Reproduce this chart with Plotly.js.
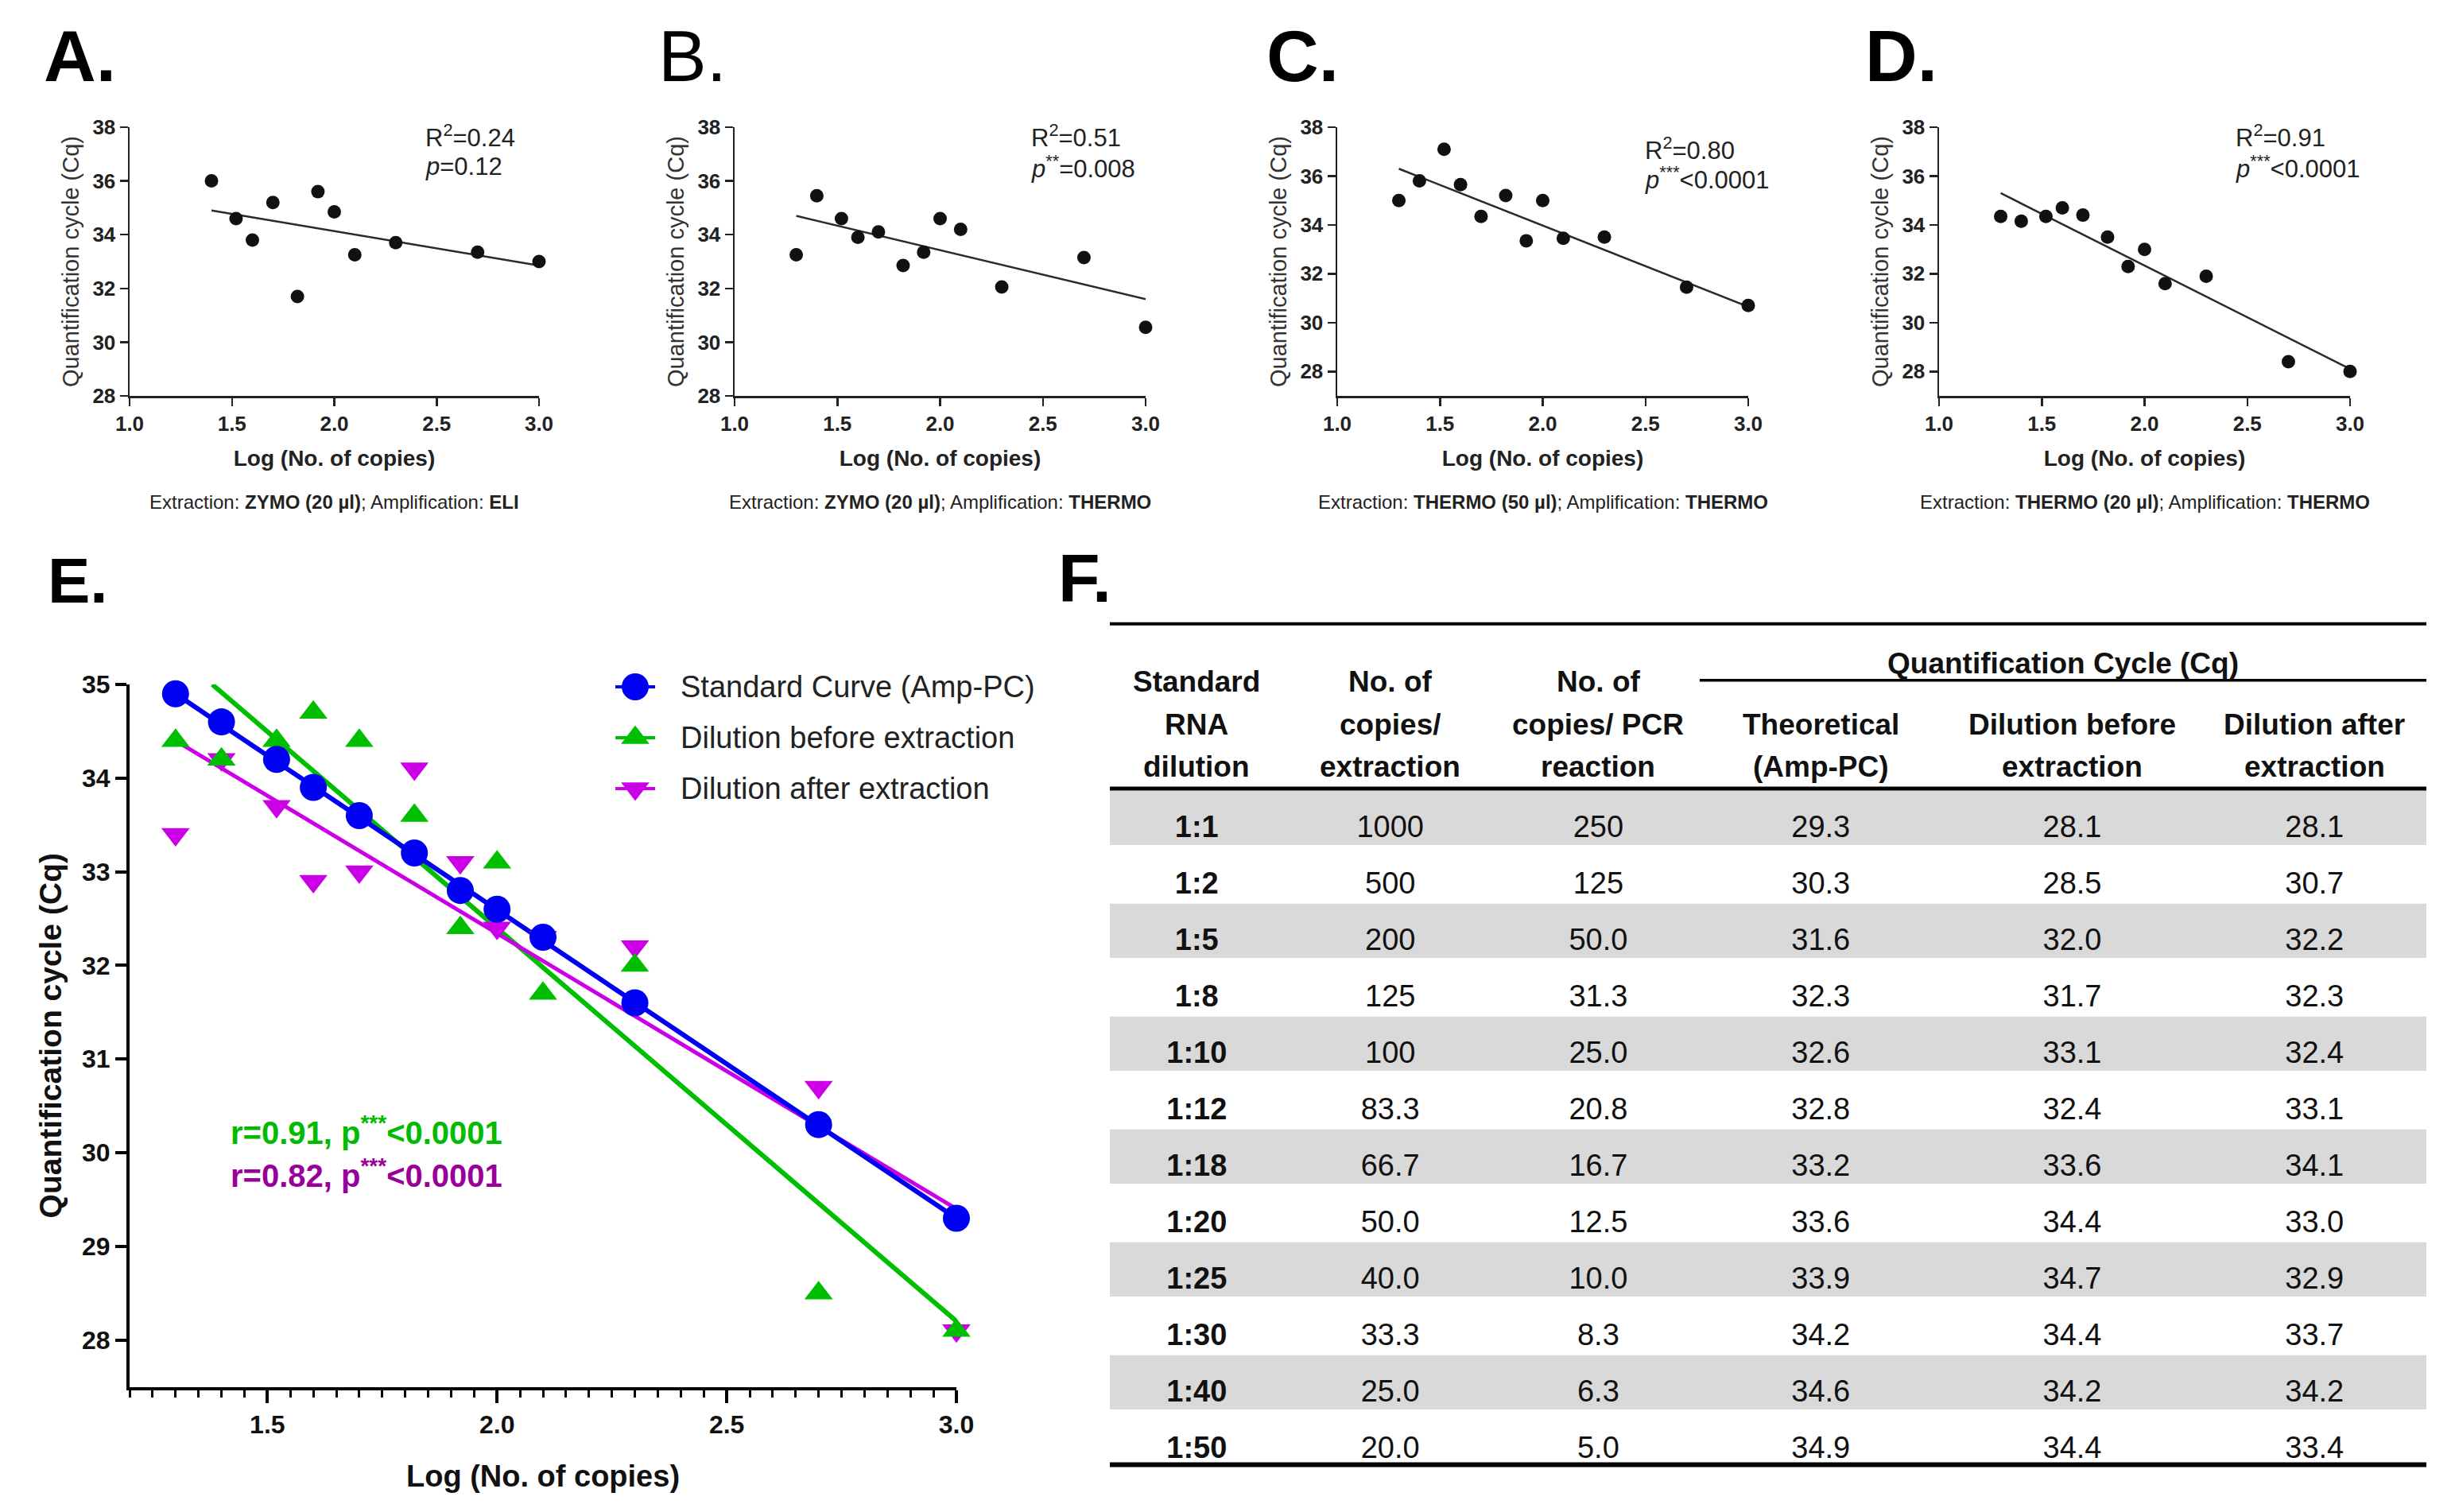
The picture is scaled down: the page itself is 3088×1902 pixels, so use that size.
<!DOCTYPE html>
<html>
<head>
<meta charset="utf-8">
<script src="https://cdn.plot.ly/plotly-3.0.1.min.js"></script>
<style>
  html, body { margin: 0; padding: 0; background: #ffffff; }
  #chart { width: 3088px; height: 1902px; }
</style>
</head>
<body>
<div id="chart"></div>
<script>
// ======================= DATA =======================
// Panels A-D : Log(No. of copies) vs Cq
const panelA_x  = [1.40, 1.52, 1.60, 1.70, 1.82, 1.92, 2.00, 2.10, 2.30, 2.70, 3.00];
const panelA_cq = [36.0, 34.6, 33.8, 35.2, 31.7, 35.6, 34.85, 33.25, 33.7, 33.35, 33.0];
const panelA_fitX  = [1.40, 3.00];
const panelA_fitCq = [34.9, 32.85];

const panelB_x  = [1.30, 1.40, 1.52, 1.60, 1.70, 1.82, 1.92, 2.00, 2.10, 2.30, 2.70, 3.00];
const panelB_cq = [33.25, 35.45, 34.6, 33.9, 34.1, 32.85, 33.35, 34.6, 34.2, 32.05, 33.15, 30.55];
const panelB_fitX  = [1.30, 3.00];
const panelB_fitCq = [34.7, 31.6];

const panelC_x  = [1.30, 1.40, 1.52, 1.60, 1.70, 1.82, 1.92, 2.00, 2.10, 2.30, 2.70, 3.00];
const panelC_cq = [35.0, 35.8, 37.1, 35.65, 34.35, 35.2, 33.35, 35.0, 33.45, 33.5, 31.45, 30.7];
const panelC_fitX  = [1.30, 3.00];
const panelC_fitCq = [36.3, 30.65];

const panelD_x  = [1.30, 1.40, 1.52, 1.60, 1.70, 1.82, 1.92, 2.00, 2.10, 2.30, 2.70, 3.00];
const panelD_cq = [34.35, 34.15, 34.35, 34.7, 34.4, 33.5, 32.3, 33.0, 31.6, 31.9, 28.4, 28.0];
const panelD_fitX  = [1.30, 3.00];
const panelD_fitCq = [35.3, 28.1];

const panelLetters = ['A.', 'B.', 'C.', 'D.', 'E.', 'F.'];
const panelR2      = ['0.24', '0.51', '0.80', '0.91'];
const panelPStars  = ['', '**', '***', '***'];
const panelPValue  = ['=0.12', '=0.008', '<0.0001', '<0.0001'];
const extractionKit    = ['ZYMO (20 µl)', 'ZYMO (20 µl)', 'THERMO (50 µl)', 'THERMO (20 µl)'];
const amplificationKit = ['ELI', 'THERMO', 'THERMO', 'THERMO'];

// Panel E / Table F
const dilutions        = ['1:1', '1:2', '1:5', '1:8', '1:10', '1:12', '1:18', '1:20', '1:25', '1:30', '1:40', '1:50'];
const copiesExtraction = ['1000', '500', '200', '125', '100', '83.3', '66.7', '50.0', '40.0', '33.3', '25.0', '20.0'];
const copiesPCR        = ['250', '125', '50.0', '31.3', '25.0', '20.8', '16.7', '12.5', '10.0', '8.3', '6.3', '5.0'];
const logCopiesE       = [3.00, 2.70, 2.30, 2.10, 2.00, 1.92, 1.82, 1.70, 1.60, 1.52, 1.40, 1.30];
const cqTheoretical    = [29.3, 30.3, 31.6, 32.3, 32.6, 32.8, 33.2, 33.6, 33.9, 34.2, 34.6, 34.9];
const cqBefore         = [28.1, 28.5, 32.0, 31.7, 33.1, 32.4, 33.6, 34.4, 34.7, 34.4, 34.2, 34.4];
const cqAfter          = [28.1, 30.7, 32.2, 32.3, 32.4, 33.1, 34.1, 33.0, 32.9, 33.7, 34.2, 33.4];

const fitTheoreticalX = [1.30, 3.00];
const fitTheoreticalY = [34.9, 29.3];
const fitBeforeX      = [1.38, 3.00];
const fitBeforeY      = [35.0, 28.2];
const fitAfterX       = [1.30, 3.00];
const fitAfterY       = [34.4, 29.4];

const seriesNames = ['Standard Curve (Amp-PC)', 'Dilution before extraction', 'Dilution after extraction'];
const corrR       = ['0.91', '0.82'];
const corrP       = ['<0.0001', '<0.0001'];

const tableHeaderLines = [
  ['Standard', 'RNA', 'dilution'],
  ['No. of', 'copies/', 'extraction'],
  ['No. of', 'copies/ PCR', 'reaction'],
  ['Theoretical', '(Amp-PC)'],
  ['Dilution before', 'extraction'],
  ['Dilution after', 'extraction']
];
const tableGroupHeader = 'Quantification Cycle (Cq)';

// ======================= STYLE / LAYOUT CONSTANTS =======================
const W = 3088, H = 1902;
const FONT = 'Liberation Sans, Arial, Helvetica, sans-serif';
const px = v => v / W;
const py = v => 1 - v / H;

const SMALL_X_PX = [[163, 678], [924, 1441], [1682, 2199], [2439, 2956]];
const SMALL_Y_PX = [160, 498];
const SMALL_Y_RANGES = [[28, 38], [28, 38], [27, 38], [27, 38]];
const STAT_X = [0.718, 0.718, 0.745, 0.718];
const STAT_Y = [[0.967, 0.853], [0.967, 0.853], [0.920, 0.811], [0.967, 0.853]];
const LETTER_POS = [[53, 71, 91, 'bold'], [826, 71, 91, 'normal'], [1591, 71, 91, 'bold'], [2344, 71, 91, 'bold'],
                    [58, 730, 80, 'bold'], [1329, 727, 86, 'bold']];

const E_X_PX = [163, 1203];
const E_Y_PX = [861, 1744.5];
const COLORS = ['#0000f2', '#00bf00', '#cc00e6'];
const TEXT_COLORS = ['#00bb00', '#990099'];
const SYMBOLS = ['circle', 'triangle-up', 'triangle-down'];
const MARKER_SIZES = [34, 31, 31];
const LINE_WIDTHS = [6, 6, 5];

const LEG_X_PX = [774, 1324];   // legend key axis domain, range [0, 11] (50 px per unit)
const LEG_Y_PX = [832, 1024];   // rows 0..2
const LEGEND_KEY = { lineX: [0, 1], markerX: 0.5, textX: 1.6 };

const TABLE_X_PX = [1396, 3052];
const TABLE_Y_PX = [770, 1860];
const TABLE_Y_RANGE = [11.586, -3.766];
const TABLE_COL_X = [0.066, 0.213, 0.371, 0.540, 0.731, 0.915];
const TABLE_TEXT_DY = 0.085;
const TABLE_SUBGROUP_X0 = 0.448;
const HEADER_LINE_Y = [-2.53, -1.78, -1.03];
const GROUP_HEADER_Y = -2.86;
const TABLE_RULES = [
  { y: -3.56, x0: 0, w: 4 },
  { y: -2.557, x0: TABLE_SUBGROUP_X0, w: 3.5 },
  { y: -0.64, x0: 0, w: 5 },
  { y: 11.34, x0: 0, w: 6 }
];
const BAND = [-0.60, 0.36];

// ======================= BUILD =======================
const traces = [];
const annotations = [];
const shapes = [];
const layout = {
  width: W, height: H,
  margin: { l: 0, r: 0, t: 0, b: 0, pad: 0 },
  paper_bgcolor: '#ffffff', plot_bgcolor: 'rgba(0,0,0,0)',
  showlegend: false,
  font: { family: FONT, color: '#222' },
  annotations: annotations,
  shapes: shapes
};

const smallPanels = [
  { x: panelA_x, cq: panelA_cq, fx: panelA_fitX, fy: panelA_fitCq },
  { x: panelB_x, cq: panelB_cq, fx: panelB_fitX, fy: panelB_fitCq },
  { x: panelC_x, cq: panelC_cq, fx: panelC_fitX, fy: panelC_fitCq },
  { x: panelD_x, cq: panelD_cq, fx: panelD_fitX, fy: panelD_fitCq }
];

smallPanels.forEach((p, i) => {
  const s = i === 0 ? '' : String(i + 1);
  traces.push({ type: 'scatter', mode: 'lines', x: p.fx, y: p.fy, xaxis: 'x' + s, yaxis: 'y' + s,
    line: { color: '#2a2a2a', width: 2.5 }, hoverinfo: 'skip', cliponaxis: false });
  traces.push({ type: 'scatter', mode: 'markers', x: p.x, y: p.cq, xaxis: 'x' + s, yaxis: 'y' + s,
    marker: { color: '#111111', size: 17 }, cliponaxis: false });

  layout['xaxis' + s] = {
    domain: [px(SMALL_X_PX[i][0]), px(SMALL_X_PX[i][1])], anchor: 'y' + s,
    range: [1, 3], tick0: 1, dtick: 0.5, tickformat: '.1f',
    ticks: 'outside', ticklen: 10, tickwidth: 2.5, tickcolor: '#222',
    showline: true, linewidth: 2.5, linecolor: '#222',
    showgrid: false, zeroline: false, fixedrange: true,
    tickfont: { family: FONT, size: 26, color: '#222', weight: 'bold' },
    title: { text: 'Log (No. of copies)', standoff: 20,
      font: { family: FONT, size: 28, color: '#222', weight: 'bold' } }
  };
  layout['yaxis' + s] = {
    domain: [py(SMALL_Y_PX[1]), py(SMALL_Y_PX[0])], anchor: 'x' + s,
    range: SMALL_Y_RANGES[i], tick0: 28, dtick: 2,
    ticks: 'outside', ticklen: 10, tickwidth: 2.5, tickcolor: '#222',
    showline: true, linewidth: 2.5, linecolor: '#222',
    showgrid: false, zeroline: false, fixedrange: true,
    tickfont: { family: FONT, size: 26, color: '#222', weight: 'bold' },
    title: { text: 'Quantification cycle (Cq)', standoff: 8,
      font: { family: FONT, size: 29, color: '#333' } }
  };

  // statistics
  annotations.push({ xref: 'x' + s + ' domain', yref: 'y' + s + ' domain', x: STAT_X[i], y: STAT_Y[i][0],
    xanchor: 'left', yanchor: 'middle', showarrow: false,
    text: 'R<sup>2</sup>=' + panelR2[i], font: { family: FONT, size: 31, color: '#222' } });
  annotations.push({ xref: 'x' + s + ' domain', yref: 'y' + s + ' domain', x: STAT_X[i], y: STAT_Y[i][1],
    xanchor: 'left', yanchor: 'middle', showarrow: false,
    text: '<i>p</i>' + (panelPStars[i] ? '<sup>' + panelPStars[i] + '</sup>' : '') + panelPValue[i].replace('<', '&lt;'),
    font: { family: FONT, size: 31, color: '#222' } });
  // subtitle
  annotations.push({ xref: 'x' + s + ' domain', yref: 'y' + s + ' domain', x: 0.5, y: 0, yshift: -134,
    xanchor: 'center', yanchor: 'middle', showarrow: false,
    text: 'Extraction: <b>' + extractionKit[i] + '</b>; Amplification: <b>' + amplificationKit[i] + '</b>',
    font: { family: FONT, size: 24, color: '#222' } });
});

// ---------- Panel E ----------
const eSeriesX = [logCopiesE, logCopiesE, logCopiesE];
const eSeriesY = [cqTheoretical, cqBefore, cqAfter];
const eFitX = [fitTheoreticalX, fitBeforeX, fitAfterX];
const eFitY = [fitTheoreticalY, fitBeforeY, fitAfterY];
const lineOrder = [1, 2, 0];
const markerOrder = [2, 1, 0];
lineOrder.forEach(k => {
  traces.push({ type: 'scatter', mode: 'lines', x: eFitX[k], y: eFitY[k], xaxis: 'x5', yaxis: 'y5',
    line: { color: COLORS[k], width: LINE_WIDTHS[k] }, hoverinfo: 'skip', cliponaxis: false });
});
markerOrder.forEach(k => {
  traces.push({ type: 'scatter', mode: 'markers', x: eSeriesX[k], y: eSeriesY[k], xaxis: 'x5', yaxis: 'y5',
    name: seriesNames[k],
    marker: { color: COLORS[k], size: MARKER_SIZES[k], symbol: SYMBOLS[k] }, cliponaxis: false });
});

layout.xaxis5 = {
  domain: [px(E_X_PX[0]), px(E_X_PX[1])], anchor: 'y5',
  range: [1.2, 3.0], dtick: 0.5, tickformat: '.1f',
  ticks: 'outside', ticklen: 16, tickwidth: 4, tickcolor: '#000',
  minor: { dtick: 0.05, ticks: 'outside', ticklen: 9, tickwidth: 3, tickcolor: '#000', showgrid: false },
  showline: true, linewidth: 4, linecolor: '#000',
  showgrid: false, zeroline: false, fixedrange: true,
  tickfont: { family: FONT, size: 32, color: '#111', weight: 'bold' },
  title: { text: 'Log (No. of copies)', standoff: 36,
    font: { family: FONT, size: 38, color: '#111', weight: 'bold' } }
};
layout.yaxis5 = {
  domain: [py(E_Y_PX[1]), py(E_Y_PX[0])], anchor: 'x5',
  range: [27.5, 35], dtick: 1,
  ticks: 'outside', ticklen: 14, tickwidth: 4, tickcolor: '#000',
  showline: true, linewidth: 4, linecolor: '#000',
  showgrid: false, zeroline: false, fixedrange: true,
  tickfont: { family: FONT, size: 32, color: '#111', weight: 'bold' },
  title: { text: 'Quantification cycle (Cq)', standoff: 14,
    font: { family: FONT, size: 39, color: '#111', weight: 'bold' } }
};

// correlation labels
corrR.forEach((r, j) => {
  annotations.push({ xref: 'x5 domain', yref: 'y5 domain', x: 0.12, y: [0.365, 0.304][j],
    xanchor: 'left', yanchor: 'middle', showarrow: false,
    text: '<b>r=' + r + ', p<sup>***</sup>' + corrP[j].replace('<', '&lt;') + '</b>',
    font: { family: FONT, size: 40, color: TEXT_COLORS[j] } });
});

// legend (drawn on its own small axis)
layout.xaxis6 = { domain: [px(LEG_X_PX[0]), px(LEG_X_PX[1])], anchor: 'y6', range: [0, 11], visible: false, fixedrange: true };
layout.yaxis6 = { domain: [py(LEG_Y_PX[1]), py(LEG_Y_PX[0])], anchor: 'x6', range: [2.5, -0.5], visible: false, fixedrange: true };
seriesNames.forEach((nm, k) => {
  traces.push({ type: 'scatter', mode: 'lines', x: LEGEND_KEY.lineX, y: [k, k], xaxis: 'x6', yaxis: 'y6',
    line: { color: COLORS[k], width: 4 }, hoverinfo: 'skip', cliponaxis: false });
  traces.push({ type: 'scatter', mode: 'markers', x: [LEGEND_KEY.markerX], y: [k], xaxis: 'x6', yaxis: 'y6',
    marker: { color: COLORS[k], size: MARKER_SIZES[k], symbol: SYMBOLS[k] }, hoverinfo: 'skip', cliponaxis: false });
  annotations.push({ xref: 'x6', yref: 'y6', x: LEGEND_KEY.textX, y: k, xanchor: 'left', yanchor: 'middle',
    showarrow: false, text: nm, font: { family: FONT, size: 38, color: '#222' } });
});

// ---------- Table F ----------
layout.xaxis7 = { domain: [px(TABLE_X_PX[0]), px(TABLE_X_PX[1])], anchor: 'y7', range: [0, 1], visible: false, fixedrange: true };
layout.yaxis7 = { domain: [py(TABLE_Y_PX[1]), py(TABLE_Y_PX[0])], anchor: 'x7', range: TABLE_Y_RANGE, visible: false, fixedrange: true };

const rowIdx = dilutions.map((_, i) => i);
rowIdx.filter(i => i % 2 === 0).forEach(i => {
  shapes.push({ type: 'rect', xref: 'x7', yref: 'y7', x0: 0, x1: 1, y0: i + BAND[0], y1: i + BAND[1],
    fillcolor: '#d9d9d9', line: { width: 0 }, layer: 'below' });
});
TABLE_RULES.forEach(r => {
  shapes.push({ type: 'line', xref: 'x7', yref: 'y7', x0: r.x0, x1: 1, y0: r.y, y1: r.y,
    line: { color: '#000', width: r.w }, layer: 'above' });
});

const tableColumns = [
  dilutions,
  copiesExtraction,
  copiesPCR,
  cqTheoretical.map(v => v.toFixed(1)),
  cqBefore.map(v => v.toFixed(1)),
  cqAfter.map(v => v.toFixed(1))
];
tableColumns.forEach((col, c) => {
  traces.push({ type: 'scatter', mode: 'text', xaxis: 'x7', yaxis: 'y7',
    x: col.map(() => TABLE_COL_X[c]), y: rowIdx.map(i => i + TABLE_TEXT_DY), text: col,
    textposition: 'middle center', cliponaxis: false, hoverinfo: 'skip',
    textfont: { family: FONT, size: 38, color: '#111', weight: c === 0 ? 'bold' : 'normal' } });
});

tableHeaderLines.forEach((lines, c) => {
  const offset = HEADER_LINE_Y.length - lines.length;
  lines.forEach((t, j) => {
    annotations.push({ xref: 'x7', yref: 'y7', x: TABLE_COL_X[c], y: HEADER_LINE_Y[j + offset],
      xanchor: 'center', yanchor: 'middle', showarrow: false, text: t,
      font: { family: FONT, size: 37, color: '#111', weight: 'bold' } });
  });
});
annotations.push({ xref: 'x7', yref: 'y7', x: (TABLE_SUBGROUP_X0 + 1) / 2, y: GROUP_HEADER_Y,
  xanchor: 'center', yanchor: 'middle', showarrow: false, text: tableGroupHeader,
  font: { family: FONT, size: 37, color: '#111', weight: 'bold' } });

// ---------- Panel letters ----------
panelLetters.forEach((L, i) => {
  const [lx, ly, fs, wt] = LETTER_POS[i];
  annotations.push({ xref: 'paper', yref: 'paper', x: px(lx), y: py(ly), xanchor: 'left', yanchor: 'middle',
    showarrow: false, text: L, font: { family: FONT, size: fs, color: '#000', weight: wt } });
});

Plotly.newPlot('chart', traces, layout, { staticPlot: true, displayModeBar: false });
</script>
</body>
</html>
